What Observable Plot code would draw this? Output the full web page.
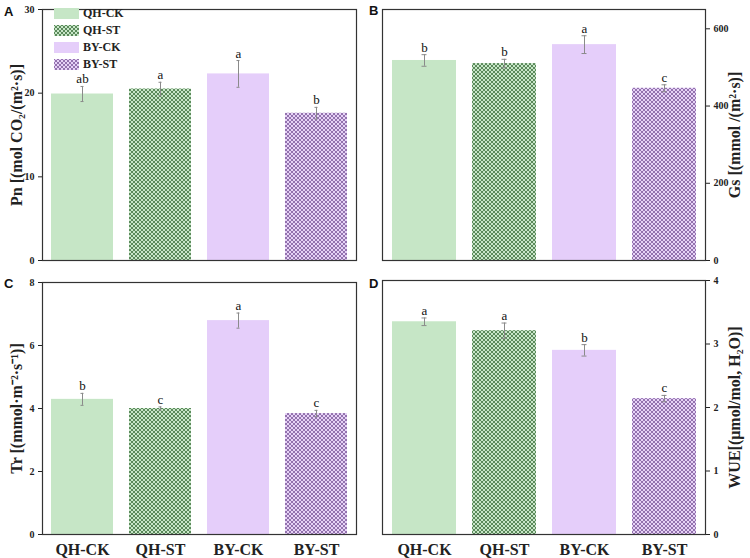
<!DOCTYPE html>
<html>
<head>
<meta charset="utf-8">
<script src="https://cdn.jsdelivr.net/npm/d3@7"></script>
<script src="https://cdn.jsdelivr.net/npm/@observablehq/plot@0.6"></script>
<style>
  body { margin: 0; background: #fff; }
  #wrap { position: relative; width: 750px; height: 558px; background: #fff; overflow: hidden; }
  #wrap svg.plot { position: absolute; }
  .panel-letter { position: absolute; font-family: "Liberation Sans", Arial, sans-serif; font-weight: bold; font-size: 13px; color: #111; }
  [aria-label="x-axis tick label"] text { font-size: 16px; }
  [aria-label="y-axis label"] text { font-size: 16px; }
  .legend { position: absolute; left: 54px; top: 5px; font-family: "Liberation Serif", serif; font-weight: bold; font-size: 12px; line-height: 13px; color: #222; }
  .legend .row { display: flex; align-items: center; height: 17px; }
  .legend svg { margin-right: 4px; }
</style>
</head>
<body>
<svg width="0" height="0" style="position:absolute">
  <defs>
    <pattern id="hatchGreen" patternUnits="userSpaceOnUse" width="4" height="4">
      <rect width="4" height="4" fill="#c8e6c8"></rect>
      <path d="M0,0 L4,4 M4,0 L0,4" stroke="#4f7f4f" stroke-width="0.9"></path>
    </pattern>
    <pattern id="hatchPurple" patternUnits="userSpaceOnUse" width="4" height="4">
      <rect width="4" height="4" fill="#e6d2f6"></rect>
      <path d="M0,0 L4,4 M4,0 L0,4" stroke="#8a68a6" stroke-width="0.9"></path>
    </pattern>
  </defs>
</svg>
<div id="wrap"></div>
<script>
// ---- data ----
const categories = ["QH-CK", "QH-ST", "BY-CK", "BY-ST"];
const fills = ["#c6e6c6", "url(#hatchGreen)", "#e5cefa", "url(#hatchPurple)"];

const pn = [19.9, 20.5, 22.3, 17.6];
const pnErr = [0.9, 0.8, 1.6, 0.7];
const pnSig = ["ab", "a", "a", "b"];

const gs = [518, 510, 559, 446];
const gsErr = [15, 11, 23, 9];
const gsSig = ["b", "b", "a", "c"];

const tr = [4.29, 4.0, 6.79, 3.84];
const trErr = [0.19, 0.05, 0.24, 0.1];
const trSig = ["b", "c", "a", "c"];

const wue = [3.35, 3.21, 2.90, 2.14];
const wueErr = [0.06, 0.12, 0.09, 0.05];
const wueSig = ["a", "a", "b", "c"];

const legendLabels = ["QH-CK", "QH-ST", "BY-CK", "BY-ST"];

// ---- panels ----
function panel(o) {
  const data = categories.map((c, i) => ({cat: c, v: o.values[i], e: o.errs[i], s: o.sigs[i]}));
  const svg = Plot.plot({
    width: o.width, height: o.height,
    marginLeft: o.ml, marginRight: o.mr, marginTop: o.mt, marginBottom: o.mb,
    style: {fontFamily: "'Liberation Serif', 'Times New Roman', serif", fontWeight: "bold", fontSize: "10px", color: "#222", background: "transparent"},
    x: {domain: categories, paddingInner: 0.2, paddingOuter: 0.1, axis: o.showX ? "bottom" : null, tickSize: 0, tickPadding: 9, label: null},
    y: {domain: o.domain, ticks: o.ticks, axis: o.anchor, label: o.label, labelAnchor: "center", labelArrow: "none", labelOffset: o.labelOffset, tickSize: 4, tickPadding: 4, tickFormat: d => String(d)},
    color: {domain: categories, range: fills},
    marks: [
      Plot.barY(data, {x: "cat", y: "v", fill: "cat"}),
      Plot.ruleX(data, {x: "cat", y1: d => d.v - d.e, y2: d => d.v + d.e, stroke: "#8a8a8a", strokeWidth: 1}),
      Plot.tickY(data, {x: "cat", y: d => d.v + d.e, stroke: "#8a8a8a", insetLeft: 29.5, insetRight: 29.5}),
      Plot.tickY(data, {x: "cat", y: d => d.v - d.e, stroke: "#8a8a8a", insetLeft: 29.5, insetRight: 29.5}),
      Plot.text(data, {x: "cat", y: d => d.v + d.e, text: "s", dy: -3, lineAnchor: "bottom", fontSize: 13, fontWeight: "normal", fill: "#111"}),
      Plot.frame({stroke: "#333", strokeWidth: 1.2})
    ]
  });
  svg.classList.add("plot");
  svg.style.left = o.left + "px";
  svg.style.top = o.top + "px";
  return svg;
}

const wrap = document.getElementById("wrap");

wrap.appendChild(panel({
  values: pn, errs: pnErr, sigs: pnSig, domain: [0, 30], ticks: [0, 10, 20, 30],
  anchor: "left", label: "Pn [(mol CO₂/(m²·s)]", labelOffset: 32, showX: false,
  left: 0, top: 0, width: 370, height: 270, ml: 42, mr: 14, mt: 9, mb: 10
}));
wrap.appendChild(panel({
  values: gs, errs: gsErr, sigs: gsSig, domain: [0, 650], ticks: [0, 200, 400, 600],
  anchor: "right", label: "Gs [(mmol /(m²·s)]", labelOffset: 34, showX: false,
  left: 370, top: 0, width: 380, height: 270, ml: 12, mr: 45, mt: 9, mb: 10
}));
wrap.appendChild(panel({
  values: tr, errs: trErr, sigs: trSig, domain: [0, 8], ticks: [0, 2, 4, 6, 8],
  anchor: "left", label: "Tr [(mmol·m⁻²·s⁻¹)]", labelOffset: 32, showX: true,
  left: 0, top: 270, width: 370, height: 288, ml: 42, mr: 14, mt: 12, mb: 24
}));
wrap.appendChild(panel({
  values: wue, errs: wueErr, sigs: wueSig, domain: [0, 4], ticks: [0, 1, 2, 3, 4],
  anchor: "right", label: "WUE[(μmol/mol, H₂O)]", labelOffset: 34, showX: true,
  left: 370, top: 270, width: 380, height: 288, ml: 12, mr: 45, mt: 10, mb: 24
}));

// panel letters
[["A", 4, 4], ["B", 369, 3], ["C", 4, 276], ["D", 369, 276]].forEach(([t, x, y]) => {
  const d = document.createElement("div");
  d.className = "panel-letter";
  d.textContent = t;
  d.style.left = x + "px";
  d.style.top = y + "px";
  wrap.appendChild(d);
});

// legend in panel A
const leg = document.createElement("div");
leg.className = "legend";
legendLabels.forEach((lab, i) => {
  const row = document.createElement("div");
  row.className = "row";
  row.innerHTML = `<svg width="25" height="11"><rect width="25" height="11" fill="${fills[i]}"></rect></svg><span>${lab}</span>`;
  leg.appendChild(row);
});
wrap.appendChild(leg);
</script>
</body>
</html>
